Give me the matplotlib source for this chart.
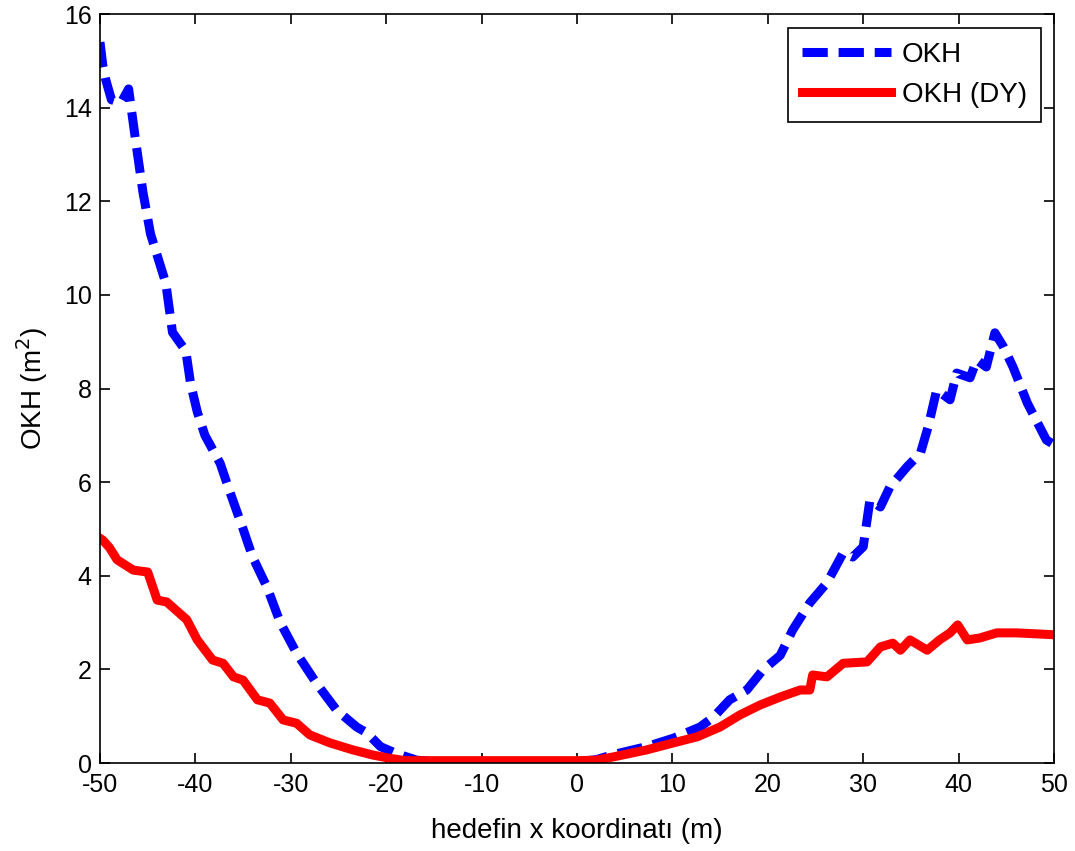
import matplotlib
matplotlib.use("Agg")
import matplotlib.pyplot as plt

# OKH (dashed blue)
okh_x = [-50, -49.7, -49.4, -48.8, -47.8, -47.0, -46.7, -46.2, -45.5, -44.7, -43.1, -42.4,
         -41.0, -40.5, -39.8, -39.0, -37.4, -36.4, -35.0, -34.0, -32.5, -31.1, -29.4, -27.3,
         -25.2, -23.1, -22.0, -20.6, -18.9, -16.8, -15, -10, -5, 0, 2, 3.8, 7.3, 10.1, 12.9,
         14.3, 16.0, 17.8, 19.5, 21.3, 22.6, 24.4, 26.2, 27.9, 28.9, 30.0, 30.7, 31.8, 32.8,
         34.6, 36.0, 36.8, 37.7, 39.1, 39.8, 41.2, 41.9, 42.9, 43.8, 44.7, 45.7, 47.2, 49.2, 50]
okh_y = [15.4, 14.9, 14.6, 14.17, 14.1, 14.4, 13.95, 13.2, 12.2, 11.3, 10.25, 9.2,
         8.8, 8.1, 7.5, 7.0, 6.4, 5.8, 5.0, 4.4, 3.76, 3.0, 2.35, 1.7,
         1.13, 0.77, 0.64, 0.35, 0.2, 0.06, 0.03, 0.02, 0.02, 0.03, 0.07, 0.18, 0.35, 0.53, 0.77,
         0.98, 1.35, 1.56, 1.99, 2.3, 2.84, 3.42, 3.85, 4.49, 4.4, 4.62, 5.62, 5.47, 5.9,
         6.33, 6.62, 7.18, 7.97, 7.76, 8.33, 8.23, 8.61, 8.46, 9.19, 8.89, 8.46, 7.69, 6.9, 6.8]

# OKH (DY) (solid red)
dy_x = [-50, -49.7, -49, -48.2, -46.5, -45, -44, -43, -40.9, -39.8, -38.2, -37.1, -36, -35,
        -33.5, -32.2, -30.8, -29.4, -28, -25.9, -23.5, -21.4, -19.6, -18, -10, 0, 2, 3.8, 7.3,
        10.1, 12.6, 15, 17.1, 19.2, 21.3, 23.4, 24.4, 24.7, 26.2, 27.9, 30.4, 31.8, 33.1, 33.9,
        34.9, 36.7, 38, 39.1, 39.9, 40.9, 42.2, 44, 46.1, 50]
dy_y = [4.8, 4.76, 4.6, 4.34, 4.12, 4.08, 3.48, 3.44, 3.06, 2.63, 2.2, 2.13, 1.84, 1.77,
        1.35, 1.28, 0.92, 0.85, 0.6, 0.43, 0.28, 0.17, 0.1, 0.05, 0.05, 0.05, 0.06, 0.13, 0.28,
        0.43, 0.56, 0.77, 1.03, 1.24, 1.41, 1.56, 1.56, 1.88, 1.84, 2.13, 2.16, 2.48, 2.56, 2.41,
        2.63, 2.41, 2.63, 2.78, 2.95, 2.63, 2.67, 2.78, 2.78, 2.74]

xticks = [-50, -40, -30, -20, -10, 0, 10, 20, 30, 40, 50]
yticks = [0, 2, 4, 6, 8, 10, 12, 14, 16]

plt.rcParams['font.family'] = ['Liberation Sans', 'DejaVu Sans']
plt.rcParams['axes.unicode_minus'] = False

fig = plt.figure(figsize=(10.75, 8.51), dpi=100)
ax = fig.add_axes([0.093, 0.1034, 0.8875, 0.8801])

ax.plot(okh_x, okh_y, color='#0000ff', lw=6.5, linestyle=(0, (2.8, 1.2)),
        dash_capstyle='butt', label='OKH')
ax.plot(dy_x, dy_y, color='#ff0000', lw=6.5, label='OKH (DY)')

ax.set_xlim(-50, 50)
ax.set_ylim(0, 16)
ax.set_xticks(xticks)
ax.set_yticks(yticks)
ax.tick_params(direction='in', length=7, width=1.2, top=True, right=True,
               labelsize=18, pad=6)
ax.tick_params(axis='x', pad=7)
for s in ax.spines.values():
    s.set_linewidth(1.2)

ax.set_xlabel('hedefin x koordinatı (m)', fontsize=20, labelpad=15)
ax.set_ylabel('OKH (m$^2$)', fontsize=20, labelpad=10)

leg = ax.legend(loc='upper right', fontsize=20, fancybox=False, framealpha=1,
                edgecolor='black', handlelength=3.2, borderpad=0.5,
                labelspacing=0.5, handletextpad=0.4, borderaxespad=0,
                bbox_to_anchor=(0.9864, 0.9813))
leg.get_frame().set_linewidth(1.2)

fig.savefig('out.png', dpi=100)
